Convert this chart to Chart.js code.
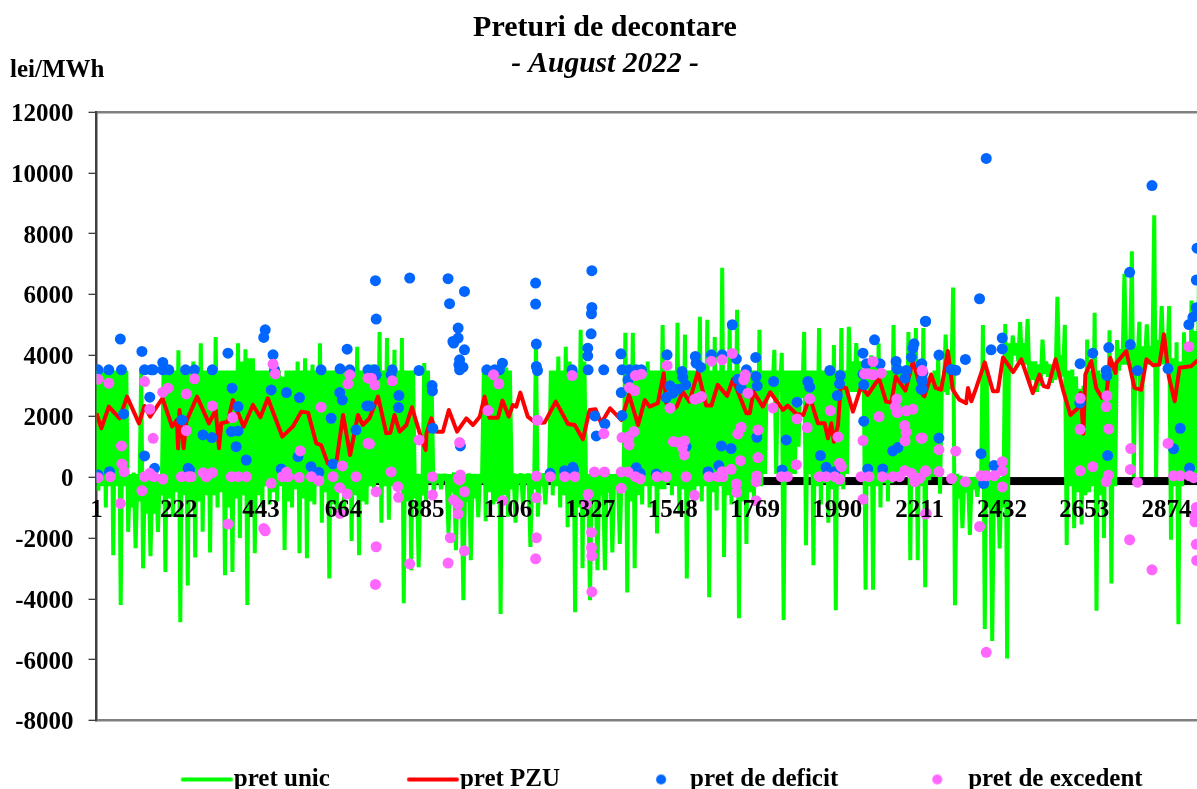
<!DOCTYPE html>
<html><head><meta charset="utf-8">
<script src="https://cdn.jsdelivr.net/npm/chart.js@4"></script>
<style>html,body{margin:0;padding:0;background:#fff;overflow:hidden;width:1197px;height:789px}canvas{display:block}</style>
</head><body><canvas id="c" width="1210" height="789"></canvas>
<script>
const seriesNames = ['pret unic','pret PZU','pret de deficit','pret de excedent'];
const chartTitle = 'Preturi de decontare';
const chartSubtitle = '- August 2022 -';
const unitLabel = 'lei/MWh';
const xTicks = [1,222,443,664,885,1106,1327,1548,1769,1990,2211,2432,2653,2874];
const sampleStep = 5;
// spike high / spike low reached in each successive group of samples
const pretUnic = [
3500,-450,3500,-1000,3500,-2570,3500,-4200,3500,-1800,150,-2340,3500,-3000,150,-2600,150,-1800,3500,-3120,
3500,-1300,4170,-4770,3500,-3560,3800,-2640,4400,-1800,3500,-2480,4600,-1000,3500,-3230,3500,-3120,4400,-2000,
4200,-4200,3900,-2500,3500,-1000,3500,-900,3500,-800,3300,-2400,3500,-1000,3800,-2500,3900,-2670,3700,-900,
4400,-1500,3500,-3330,3500,-1200,3500,-1100,3500,-2100,4280,-2570,3500,-900,3700,-500,4770,-1500,4570,-1400,
4180,-300,4570,-4150,3500,-3060,110,-2960,3750,-800,2960,-600,100,-400,100,-1840,150,-2400,100,-4050,
120,-2730,100,-1320,3500,-1450,3600,-900,3600,-4500,3600,-1300,120,-1500,120,-900,120,-2300,4400,-1300,
120,-900,3500,-600,3960,-1000,4280,-1650,3600,-4440,4840,-3000,100,-4050,100,-3060,100,-3060,100,-2480,
100,-2200,4740,-3790,4740,-3000,3500,-900,3800,-1000,3500,-1850,5000,-400,3500,-600,5070,-1200,4680,-3330,
3500,-800,5270,-800,5170,-3950,4600,-1100,6880,-2630,5000,-900,5500,-4640,3500,-2200,3500,-900,4840,-300,
3500,2800,4180,100,4080,-4700,3500,100,3500,1000,4770,-2240,3500,-2900,4900,-900,3500,-1500,4340,-4380,
4900,-400,4940,2800,4400,2800,3500,-3700,4000,-3700,4400,-1000,3500,-800,5000,100,3500,100,4770,-2730,
4900,-2730,4900,-3620,3350,0,4100,-550,4680,2700,6230,-4210,50,-1680,0,-1900,0,-650,5000,-4990,
50,-5390,50,-2350,5030,-5960,4650,4000,5090,3700,5190,3100,3800,2800,4520,3400,3700,3100,5920,3300,
5000,-2230,3530,-1680,2900,-1560,4520,-500,5400,-4390,3400,-2000,4820,-3500,4500,3500,6680,3700,7420,0,
5100,0,5020,3700,8600,0,5620,3700,5620,-2060,4430,-4840,4760,0,5800,0,6420,-450
];
// the solid body between the spikes: upper / lower level of each group
const pretUnicBody = [
3500,-300,3500,-300,3500,-300,3500,-300,100,-1000,100,-800,100,-1200,100,-1200,100,-600,3500,-700,
3500,-500,3500,-600,3500,-800,3500,-800,3500,-600,3500,-600,3500,-500,3500,-1000,3500,-700,3800,-600,
3900,-900,3500,-600,3500,-300,3500,-500,3500,-300,3500,-800,3500,-400,3500,-700,3500,-800,3500,-300,
3500,-500,3500,-900,3500,-500,3500,-400,3500,-600,3500,-800,3500,-300,3500,-200,3500,-300,3000,-300,
3500,-300,3500,-800,3500,-700,100,-600,3500,-200,100,-200,100,-100,100,-500,100,-900,100,-800,
100,-700,100,-200,3500,-500,3500,-800,3500,-600,3500,-400,100,-200,100,-200,100,-400,100,-300,
100,-100,3500,-300,3500,-600,3800,-800,3500,-1000,3800,-800,100,-800,100,-600,100,-500,100,-400,
100,-300,3500,-800,3500,-600,3500,-300,3500,-300,3500,-400,3500,-200,3500,-300,3500,-400,3500,-600,
3500,-300,3500,-300,3500,-500,3500,-300,3500,-600,3500,-300,3500,-800,3500,-500,3500,-300,3500,100,
3500,2800,3500,2800,3500,100,3500,100,3500,2600,3500,100,3500,-300,3500,-200,3500,-400,3500,-300,
3500,100,3800,2800,3800,2800,3800,-300,3700,-300,3500,-200,3500,-200,3500,100,3500,100,3500,-300,
3500,-300,3300,-100,3500,0,3200,2800,3700,2900,100,-700,0,-500,0,-400,0,-300,3500,-1000,
0,-1200,0,-1000,4400,3500,4400,3800,4400,3700,3800,3200,3700,3000,3800,3300,3700,3200,4000,3300,
3500,-300,3300,-500,3000,-600,3500,-300,3500,-600,3400,-300,3700,-300,4200,3700,4400,3800,4300,3700,
4300,3700,4300,3700,4500,3800,4500,3800,3900,-300,3800,-300,4200,0,4800,0,5000,0
];
// [sample, lei/MWh]
const pretPZU = [
[1,2097],[14,1603],[34,2316],[63,1931],[83,2645],[115,1766],[130,2337],[145,1986],[178,2590],[204,1657],[217,1876],[220,943],[224,2206],[235,943],[242,1821],[271,2645],[303,1766],[321,2206],[330,943],[336,1768],[354,1821],[367,2535],[396,1656],[421,2370],[441,1965],[461,2590],[500,1327],[528,1656],[551,2150],[569,2117],[591,1109],[604,1053],[622,451],[646,560],[663,2041],[682,724],[703,2041],[716,1712],[734,1931],
[757,2645],[779,1437],[790,1459],[801,2041],[815,1492],[833,1712],[848,2294],[869,1437],[885,889],[887,1437],[900,1931],[913,1492],[931,1492],[947,2206],[969,1492],[994,1931],[1012,1712],[1030,1985],[1043,2645],[1056,1953],[1079,1953],[1091,2513],[1108,1986],[1119,2370],[1128,2316],[1139,2777],[1159,1986],[1182,1766],[1204,1789],[1234,2480],[1267,1745],[1285,1712],[1307,1240],[1325,2206],[1341,2228],[1356,1767],[1380,2261],[1410,1876],[1431,2700],[1455,1712],[1473,2535],
[1486,2316],[1508,2425],[1524,3413],[1531,2425],[1547,2206],[1559,2316],[1575,2809],[1593,2480],[1616,3468],[1638,2349],[1652,2349],[1669,3029],[1694,2667],[1710,3215],[1746,2096],[1755,2096],[1765,2809],[1790,2316],[1810,2787],[1844,2206],[1857,2349],[1880,2074],[1899,2041],[1916,2645],[1938,1767],[1956,1767],[1965,1273],[1974,1767],[1981,1163],[1992,1712],[1999,2973],[2014,2920],[2032,2150],[2054,2973],[2072,2700],[2102,3248],[2121,2480],[2135,2447],[2147,3303],[2173,2842],[2193,3797],[2220,2700],
[2224,2650],[2242,3370],[2254,2930],[2269,2870],[2287,4140],[2300,2870],[2318,2540],[2336,2430],[2341,2930],[2350,2490],[2363,2930],[2386,3770],[2408,2820],[2421,2820],[2435,3930],[2462,3450],[2484,3870],[2515,2760],[2533,3370],[2544,2990],[2556,2950],[2576,3870],[2596,2870],[2616,2040],[2636,2270],[2643,2760],[2651,1430],[2656,3370],[2672,3810],[2685,2930],[2701,2600],[2712,2650],[2723,3920],[2737,3420],[2739,3750],[2766,4140],[2788,2930],[2806,2870],[2820,3870],[2838,3670],[2855,3700],[2867,4690],[2880,3310],[2896,2490],[2909,3590],[2940,3640],[2955,3810],[2976,3800]
];
const pretDeficit = [
[5,3523],[34,3523],[68,3523],[65,4533],[123,4127],[130,3523],[148,3523],[153,3523],[179,3765],[179,3523],[195,3523],[240,3523],[264,3523],[312,3523],[354,4072],[454,4840],[450,4587],[475,4017],[479,3523],[604,3523],[655,3556],[681,3523],[674,4203],[730,3523],
[74,2075],[144,2624],[230,1878],[365,2920],[381,2317],[470,2865],[511,2777],[546,2613],[654,2777],[661,2536],[631,1933],[727,2339],[698,1549],[287,1384],[311,1296],[363,1494],[381,1516],[376,1000],[130,693],[403,561],[542,671],[636,430],[577,342],
[5,68],[36,178],[157,287],[247,287],[251,232],[497,265],[598,156],
[750,6453],[842,6541],[945,6519],[989,6102],[949,5696],[752,5191],[1180,6376],[1180,5685],[1331,6782],[1331,5575],[1330,5367],[1329,4709],[972,4895],[972,4566],[958,4456],[960,4402],[989,4182],[976,3853],[974,3688],[985,3612],[976,3524],[1182,4369],[1320,4237],[1320,3985],[1409,4050],[1182,3634],[1185,3502],[748,3524],[752,3359],[795,3524],[792,3359],[867,3502],[902,3008],[903,2833],[1049,3524],[1070,3524],[1083,3524],[1091,3743],[1278,3524],[1321,3524],[1363,3524],[1412,3524],[1432,3524],[1450,3524],[1464,3524],[1428,3195],[1410,2778],[813,2679],[812,2284],[734,2339],[904,1604],[978,1023],[1339,2010],[1366,1747],[1343,1352],[1412,2021],[1219,123],[1258,211],[1280,321],[1282,233],[1450,310],[1461,123],
[1533,4018],[1609,3963],[1652,4018],[1681,4018],[1708,5005],[1719,3886],[1771,3930],[1611,3743],[1623,3612],[1573,3469],[1575,3283],[1583,3030],[1541,2997],[1531,2613],[1549,2756],[1562,2888],[1723,3217],[1732,2921],[1746,3524],[1772,3305],[1775,2997],[1819,3140],[1911,3140],[1916,2953],[1882,2460],[1970,3502],[1998,3337],[1996,3063],[1990,2679],[2090,4511],[2059,4072],[2068,3721],[2105,3721],[2059,3381],[2061,3030],[2148,3798],[2151,3546],[2175,3502],[2172,3250],[2189,3941],[2196,4380],[2193,4237],[2227,5115],[2217,3721],[2217,3195],[2215,2888],[1774,1308],[1853,1220],[1679,1023],[1705,935],[1584,1001],[1945,705],[2061,1835],[2153,968],[2139,858],[1504,101],[1643,178],[1672,376],[1842,233],[1960,321],[1983,178],[2072,266],[2112,266],
[2390,10470],[2835,9580],[2372,5860],[2227,5120],[2403,4180],[2433,4570],[2433,4210],[2263,4010],[2334,3865],[2215,3700],[2220,3425],[2296,3535],[2308,3510],[2218,3145],[2218,2890],[2642,3725],[2676,4070],[2719,4255],[2777,4355],[2934,5010],[2945,5255],[2954,5565],[2954,6475],[2956,7520],[2712,3500],[2714,3335],[2796,3500],[2878,3565],[2775,6730],[2641,2430],[2263,1280],[2911,1600],[2893,930],[2376,770],[2716,705],[2411,380],[2383,-215],[2936,295]
];
const pretExcedent = [
[5,3216],[34,3085],[130,3139],[264,3227],[193,2920],[179,2788],[242,2733],[475,3710],[481,3392],[144,2229],[312,2338],[366,1954],[604,2295],[681,3359],[676,3063],[730,3249],[242,1527],[153,1274],[68,1022],[548,858],[730,1110],[69,430],[75,177],[661,364],[5,-20],[38,13],[130,13],[144,123],[155,13],[179,-64],[229,13],[248,13],[255,13],[287,145],[296,13],[312,145],[363,13],[381,13],[403,13],[500,13],[511,156],[515,13],[545,-9],[578,13],[598,-119],[636,13],[698,13],[470,-206],[123,-448],[65,-865],[654,-349],[674,-557],[655,-1194],[354,-1545],[450,-1687],[454,-1764],
[1067,3359],[1081,3063],[1278,3337],[739,3250],[748,3030],[795,3162],[1052,2186],[1185,1867],[1448,3337],[1464,3381],[1432,2942],[1446,2844],[1363,1429],[1412,1297],[1431,1330],[1444,1494],[1431,1056],[867,1220],[976,1132],[734,1088],[792,167],[903,13],[978,68],[972,-42],[1182,35],[1219,13],[1258,13],[1285,13],[1338,167],[1365,167],[1410,167],[1428,167],[1448,13],[1461,-63],[752,-480],[810,-316],[812,-667],[903,-590],[989,-480],[976,-96],[960,-754],[972,-897],[972,-1215],[1182,-677],[1092,-776],[1410,-370],[1321,-568],[1316,-897],[951,-1994],[989,-2422],[752,-2290],[1182,-1994],[1180,-2685],[1330,-1819],[1330,-2312],[1331,-2587],[842,-2850],[945,-2828],[750,-3530],[1331,-3771],
[1533,3667],[1652,3809],[1681,3853],[1708,4061],[1616,2591],[1625,2646],[1607,2558],[1541,2262],[1750,2756],[1743,3359],[1739,3195],[1817,2273],[1882,1911],[1916,2570],[1909,1626],[1971,2186],[1992,1319],[1732,1637],[1723,1418],[1777,1549],[1550,1165],[1568,1132],[1580,1187],[1574,979],[1579,727],[2059,1198],[1730,540],[1777,639],[1880,408],[1996,452],[2001,343],[1506,13],[1531,13],[1584,13],[1645,13],[1669,13],[1681,178],[1683,13],[1705,255],[1774,35],[1772,-151],[1840,13],[1856,13],[1942,13],[1960,13],[1983,13],[1996,-74],[2054,13],[2075,13],[2111,13],[2139,13],[2157,13],[2171,211],[2189,123],[2198,-151],[2211,-41],[2227,178],[1719,-228],[1720,-502],[1607,-601],[2059,-732],[1772,-776],[2227,-1215],[2063,3392],[2086,3798],[2086,3359],[2108,3414],[2072,3392],[2218,3491],[2150,2558],[2146,2317],[2151,2120],[2175,2175],[2193,2230],[2102,1988],[2171,1692],[2175,1473],[2172,1187],[2215,1275],
[2218,3500],[2934,4285],[2642,2590],[2714,2670],[2712,2315],[2642,1570],[2719,1580],[2218,1280],[2263,900],[2308,850],[2878,1105],[2778,935],[2433,505],[2227,205],[2263,180],[2777,250],[2642,205],[2676,340],[2433,205],[2718,60],[2376,40],[2390,40],[2411,40],[2297,-50],[2334,-155],[2796,-170],[2712,-150],[2893,40],[2911,40],[2936,40],[2947,-20],[2433,-325],[2229,-1200],[2372,-1625],[2775,-2060],[2835,-3050],[2390,-5760],[2954,-1000],[2950,-1260],[2950,-1470],[2954,-2210],[2955,-2740]
];

const GREEN='#00FF00',RED='#FF0000',BLUE='#0066FF',PINK='#FF66FF';
const FONT='"Liberation Serif"';
const LEGEND_DX=22,LEGEND_DY=39;
function lineSwatch(color){
  const c=document.createElement('canvas');c.width=133;c.height=8;
  const g=c.getContext('2d');g.strokeStyle=color;g.lineWidth=4;g.lineCap='round';
  g.beginPath();g.moveTo(83,4);g.lineTo(131,4);g.stroke();return c;
}
function dotSwatch(color,cx){
  const c=document.createElement('canvas');c.width=133;c.height=12;
  const g=c.getContext('2d');g.fillStyle=color;
  g.beginPath();g.arc(cx,6,5,0,Math.PI*2);g.fill();return c;
}
const swatches=[lineSwatch(GREEN),lineSwatch(RED),dotSwatch(BLUE,105),dotSwatch(PINK,103)];
const asPoints=a=>a.map(p=>({x:p[0],y:p[1]}));
const unicPoints=[];
for(let i=0;i<pretUnic.length;i+=2){
  unicPoints.push(pretUnic[i],pretUnic[i+1],pretUnicBody[i],pretUnicBody[i+1]);
}

const furniture={
  id:'furniture',
  afterLayout(chart){
    const l=chart.legend;l.left+=LEGEND_DX;l.right+=LEGEND_DX;l.top+=LEGEND_DY;l.bottom+=LEGEND_DY;
  },
  beforeDatasetsDraw(chart){
    const {ctx,chartArea:a,scales:{y}}=chart;
    ctx.save();ctx.fillStyle='#000';
    ctx.fillRect(a.left,y.getPixelForValue(0),a.right-a.left,8);
    ctx.restore();
  },
  afterDraw(chart){
    const ctx=chart.ctx;ctx.save();
    ctx.fillStyle='#000';ctx.font='bold 25px '+FONT;ctx.textAlign='left';ctx.textBaseline='middle';
    ctx.fillText(unitLabel,10,71);ctx.restore();
  }
};

new Chart(document.getElementById('c'),{
  type:'line',
  plugins:[furniture],
  data:{datasets:[
    {label:seriesNames[0],order:4,data:unicPoints.map((v,i)=>({x:1+i*sampleStep,y:v})),borderColor:GREEN,backgroundColor:GREEN,borderWidth:4,pointRadius:0,tension:0,borderJoinStyle:'bevel',fill:false},
    {label:seriesNames[1],order:3,data:asPoints(pretPZU),borderColor:RED,backgroundColor:RED,borderWidth:4,pointRadius:0,tension:0,borderJoinStyle:'round',fill:false},
    {label:seriesNames[2],order:2,type:'scatter',showLine:false,data:asPoints(pretDeficit),backgroundColor:BLUE,borderColor:BLUE,borderWidth:0,pointRadius:5.5,pointStyle:'circle'},
    {label:seriesNames[3],order:1,type:'scatter',showLine:false,data:asPoints(pretExcedent),backgroundColor:PINK,borderColor:PINK,borderWidth:0,pointRadius:5.5,pointStyle:'circle'}
  ]},
  options:{
    responsive:false,animation:false,devicePixelRatio:1,
    layout:{padding:{left:5,right:5,top:0,bottom:26}},
    plugins:{
      tooltip:{enabled:false},
      title:{display:true,text:chartTitle,color:'#000',font:{family:FONT,size:30,weight:'bold',lineHeight:1.2},padding:{top:10,bottom:0}},
      subtitle:{display:true,text:chartSubtitle,color:'#000',font:{family:FONT,size:29.5,weight:'bold',style:'italic',lineHeight:1.2},padding:{top:1,bottom:29.5}},
      legend:{display:true,position:'bottom',
        labels:{usePointStyle:true,pointStyleWidth:110,padding:7.5,color:'#000',font:{family:FONT,size:25,weight:'bold'},
          generateLabels(chart){
            return Chart.defaults.plugins.legend.labels.generateLabels(chart)
              .sort((a,b)=>a.datasetIndex-b.datasetIndex)
              .map(it=>Object.assign(it,{pointStyle:swatches[it.datasetIndex]}));
          }}}
    },
    scales:{
      x:{type:'linear',min:1,max:2976,position:{y:0},
        afterBuildTicks(s){s.ticks=xTicks.map(value=>({value}));},
        grid:{display:false,drawTicks:false},border:{display:false},
        ticks:{z:1,autoSkip:false,maxRotation:0,minRotation:0,padding:18,color:'#000',font:{family:FONT,size:25,weight:'bold'},callback:v=>String(v)}},
      y:{type:'linear',min:-8000,max:12000,
        afterFit(s){s.width=91.5;},
        border:{display:true,color:'#404040',width:2.5},
        grid:{color:c=>(c.tick&&(c.tick.value===12000||c.tick.value===-8000))?'#808080':'rgba(0,0,0,0)',tickColor:'#000',lineWidth:2.5,tickWidth:1,tickLength:8,drawTicks:true},
        ticks:{stepSize:2000,padding:15,labelOffset:2.5,color:'#000',font:{family:FONT,size:25,weight:'bold'},callback:v=>String(v)}}
    }
  }
});
</script></body></html>
